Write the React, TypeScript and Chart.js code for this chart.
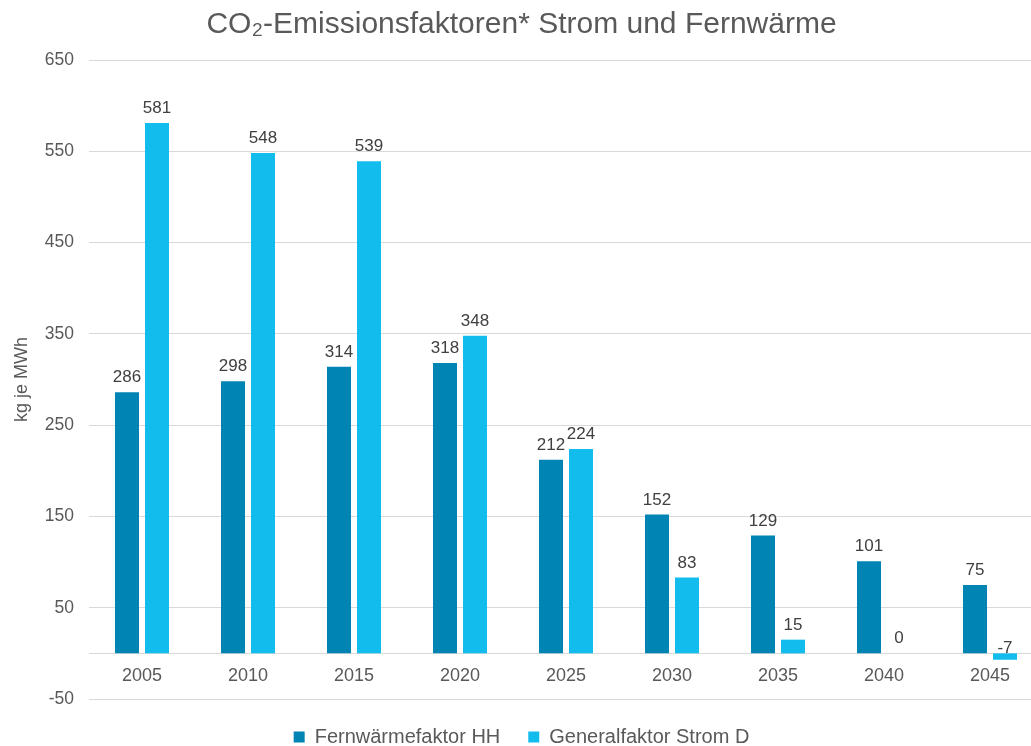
import React, { useEffect, useRef } from 'react';
import { Chart, registerables } from 'chart.js';

Chart.register(...registerables);

const years = ['2005', '2010', '2015', '2020', '2025', '2030', '2035', '2040', '2045'];
const fernwaermeHH = [286, 298, 314, 318, 212, 152, 129, 101, 75];
const stromD = [581, 548, 539, 348, 224, 83, 15, 0, -7];
const seriesNames = ['Fernwärmefaktor HH', 'Generalfaktor Strom D'];
const seriesColors = ['#0084B4', '#12BDEE'];
const yMin = -50;
const yMax = 650;
const yStep = 100;
const titleText = 'CO₂-Emissionsfaktoren* Strom und Fernwärme';
const yTitleText = 'kg je MWh';

const FONT = '"Liberation Sans", Arial, sans-serif';

const valueLabels = {
  id: 'valueLabels',
  afterDatasetsDraw(chart: any) {
    const ctx = chart.ctx;
    ctx.save();
    ctx.font = `17px ${FONT}`;
    ctx.fillStyle = '#404040';
    ctx.textAlign = 'center';
    ctx.textBaseline = 'alphabetic';
    chart.data.datasets.forEach((ds: any, i: number) => {
      const meta = chart.getDatasetMeta(i);
      meta.data.forEach((el: any, j: number) => {
        const v = ds.data[j] as number;
        const y = v >= 0 ? el.y - 10 : el.base;
        ctx.fillText(String(v), el.x, y);
      });
    });
    ctx.restore();
  },
};

const legendHeight = {
  id: 'legendHeight',
  afterInit(chart: any) {
    const lg = chart.legend;
    if (!lg) return;
    const fit = lg.fit.bind(lg);
    lg.fit = function () {
      fit();
      lg.height = 47;
    };
  },
};

export default function App() {
  const ref = useRef<HTMLCanvasElement | null>(null);
  useEffect(() => {
    if (!ref.current) return;
    const chart = new Chart(ref.current, {
      type: 'bar',
      data: {
        labels: years,
        datasets: [
          {
            label: seriesNames[0],
            data: fernwaermeHH,
            backgroundColor: seriesColors[0],
            borderWidth: 0,
            barPercentage: 0.8,
            categoryPercentage: 0.566,
          },
          {
            label: seriesNames[1],
            data: stromD,
            backgroundColor: seriesColors[1],
            borderWidth: 0,
            barPercentage: 0.8,
            categoryPercentage: 0.566,
          },
        ],
      },
      options: {
        animation: false,
        responsive: false,
        devicePixelRatio: 1,
        layout: { padding: { left: 0, right: 1, top: 0, bottom: 0 } },
        plugins: {
          title: {
            display: true,
            text: titleText,
            color: '#595959',
            font: { family: FONT, size: 30, weight: 'normal' },
            padding: { top: 6.5, bottom: 17.5 },
          },
          legend: {
            position: 'bottom',
            labels: {
              boxWidth: 11,
              boxHeight: 11,
              color: '#595959',
              font: { family: FONT, size: 20 },
              padding: 28,
            },
          },
          tooltip: { enabled: false },
        },
        scales: {
          x: {
            type: 'category',
            position: { y: 0 } as any,
            grid: { display: false, drawTicks: false },
            border: { display: true, color: '#D9D9D9', width: 1 },
            ticks: { color: '#595959', font: { family: FONT, size: 18 }, padding: 12 },
          },
          y: {
            min: yMin,
            max: yMax,
            ticks: {
              stepSize: yStep,
              color: '#595959',
              font: { family: FONT, size: 17.5 },
              padding: 15,
            },
            grid: { color: '#D9D9D9', drawTicks: false },
            border: { display: false },
            title: {
              display: true,
              text: yTitleText,
              color: '#595959',
              font: { family: FONT, size: 18 },
              padding: { top: 11, bottom: 0 },
            },
            afterFit(scale: any) {
              scale.width = 89;
            },
          },
        },
      },
      plugins: [valueLabels, legendHeight],
    });
    return () => chart.destroy();
  }, []);

  return (
    <div style={{ position: 'fixed', left: 0, top: 0, width: 1031, height: 746, overflow: 'hidden', background: '#fff' }}>
      <canvas ref={ref} width={1044} height={746} style={{ display: 'block' }} />
    </div>
  );
}
